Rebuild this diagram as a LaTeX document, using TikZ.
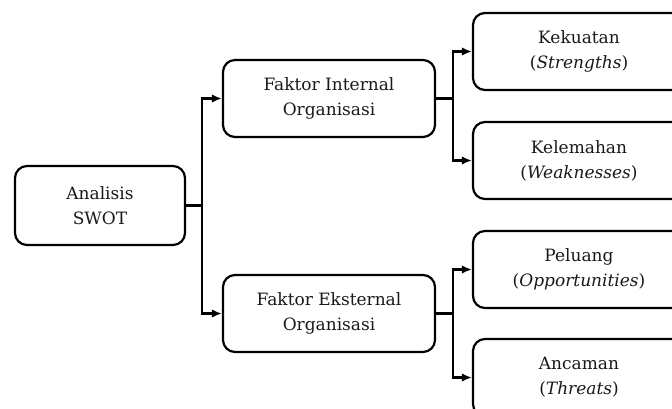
\documentclass[tikz,border=0pt]{standalone}
\usepackage{fontspec}
\setmainfont{DejaVu Serif}
\usetikzlibrary{arrows.meta}
\begin{document}
\begin{tikzpicture}[x=1pt,y=1pt,
  box/.style={draw=black, line width=2.2pt, rounded corners=12pt, align=center,
    inner sep=0pt, font=\fontsize{17}{25}\selectfont, text=black!90},
  link/.style={line width=2.2pt, -{Latex[length=10pt,width=8.5pt]}},
  plain/.style={line width=2.2pt}]
  \clip (0,0) rectangle (672,408);
  \fill[white] (0,0) rectangle (672,408);
  % root
  \node[box, minimum width=170pt, minimum height=79pt] (swot) at (100,202.5) {Analisis\\SWOT};
  % second level
  \node[box, minimum width=212pt, minimum height=77pt] (int) at (329,309.5) {Faktor Internal\\Organisasi};
  \node[box, minimum width=212pt, minimum height=77pt] (ext) at (329,94.5) {Faktor Eksternal\\Organisasi};
  % third level
  \node[box, minimum width=212pt, minimum height=77pt] (s) at (579,356.5) {Kekuatan\\(\textit{Strengths})};
  \node[box, minimum width=212pt, minimum height=77pt] (w) at (579,247.5) {Kelemahan\\(\textit{Weaknesses})};
  \node[box, minimum width=212pt, minimum height=77pt] (o) at (579,138.5) {Peluang\\(\textit{Opportunities})};
  \node[box, minimum width=212pt, minimum height=77pt] (t) at (579,30.5) {Ancaman\\(\textit{Threats})};
  % branch points
  \coordinate (j0) at ([xshift=16pt]swot.east);
  \coordinate (j1) at ([xshift=17pt]int.east);
  \coordinate (j2) at ([xshift=17pt]ext.east);
  % connectors
  \draw[plain] (swot.east) -- (j0);
  \draw[link] (j0) |- (int.west);
  \draw[link] (j0) |- (ext.west);
  \draw[plain] (int.east) -- (j1);
  \draw[link] (j1) |- (s.west);
  \draw[link] (j1) |- (w.west);
  \draw[plain] (ext.east) -- (j2);
  \draw[link] (j2) |- (o.west);
  \draw[link] (j2) |- (t.west);
\end{tikzpicture}
\end{document}
